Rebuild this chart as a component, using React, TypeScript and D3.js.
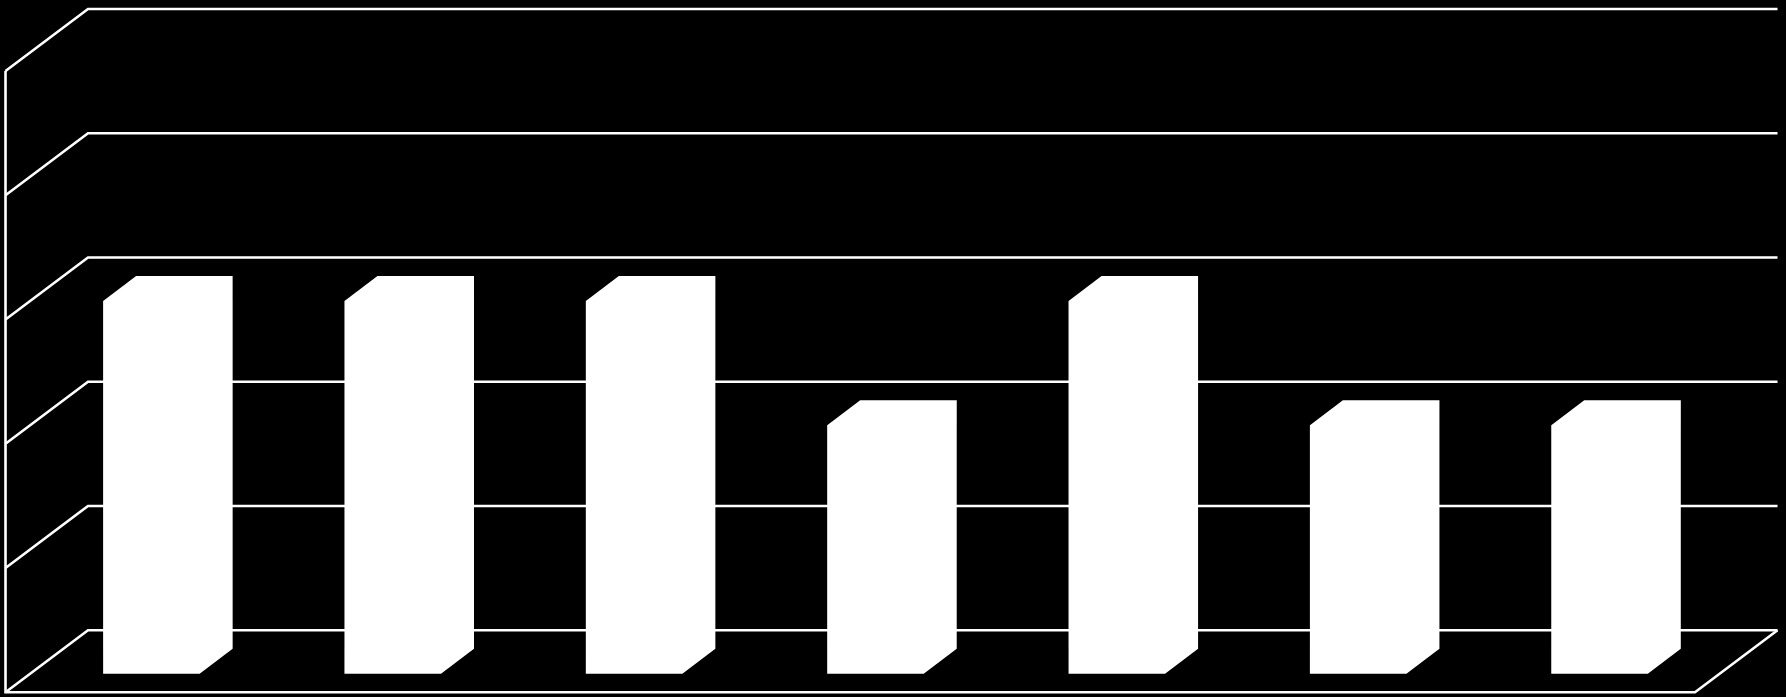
import React from 'react';
import * as d3 from 'd3';

const width = 1786;
const height = 697;

// no labels are visible in the picture, so the categories are just numbered
const categories = ['1', '2', '3', '4', '5', '6', '7'];
const values = [3, 3, 3, 2, 3, 2, 2];
const yTicks = [0, 1, 2, 3, 4, 5];

// 3D box offsets
const wallDx = 82.5;
const wallDy = 62;
const barInsetDx = 25.2;
const barInsetDy = 18.5;
const barDx = 33;
const barDy = 25;

const x = d3
  .scaleBand<string>()
  .domain(categories)
  .range([5.5, 1695])
  .paddingInner(0.6)
  .paddingOuter(0.3);

const y = d3.scaleLinear().domain([0, 5]).range([692.2, 71]);

const line = d3.line();

const App: React.FC = () => {
  const gridPath = (t: number) =>
    line([
      [x.range()[0], y(t)],
      [x.range()[0] + wallDx, y(t) - wallDy],
      [x.range()[1] + wallDx, y(t) - wallDy],
    ]);

  const barPath = (c: string, v: number) => {
    const x0 = x(c)! + barInsetDx;
    const x1 = x0 + x.bandwidth();
    const yBase = y(0) - barInsetDy;
    const yTop = y(v) - barInsetDy;
    return (
      line([
        [x0, yBase],
        [x0, yTop],
        [x0 + barDx, yTop - barDy],
        [x1 + barDx, yTop - barDy],
        [x1 + barDx, yBase - barDy],
        [x1, yBase],
      ]) + 'Z'
    );
  };

  // left wall, floor front edge and floor right edge
  const framePath = line([
    [x.range()[0], y(5)],
    [x.range()[0], y(0)],
    [x.range()[1], y(0)],
    [x.range()[1] + wallDx, y(0) - wallDy],
  ]);

  return (
    <div style={{ position: 'fixed', left: 0, top: 0, width, height, background: '#000' }}>
      <svg width={width} height={height} style={{ display: 'block' }}>
        <rect width={width} height={height} fill="#000" />
        <g fill="none" stroke="#fff" strokeWidth={2.6}>
          {yTicks.map((t) => (
            <path key={t} d={gridPath(t)!} />
          ))}
          <path d={framePath!} />
        </g>
        <g fill="#fff">
          {categories.map((c, i) => (
            <path key={c} d={barPath(c, values[i])} />
          ))}
        </g>
      </svg>
    </div>
  );
};

export default App;
